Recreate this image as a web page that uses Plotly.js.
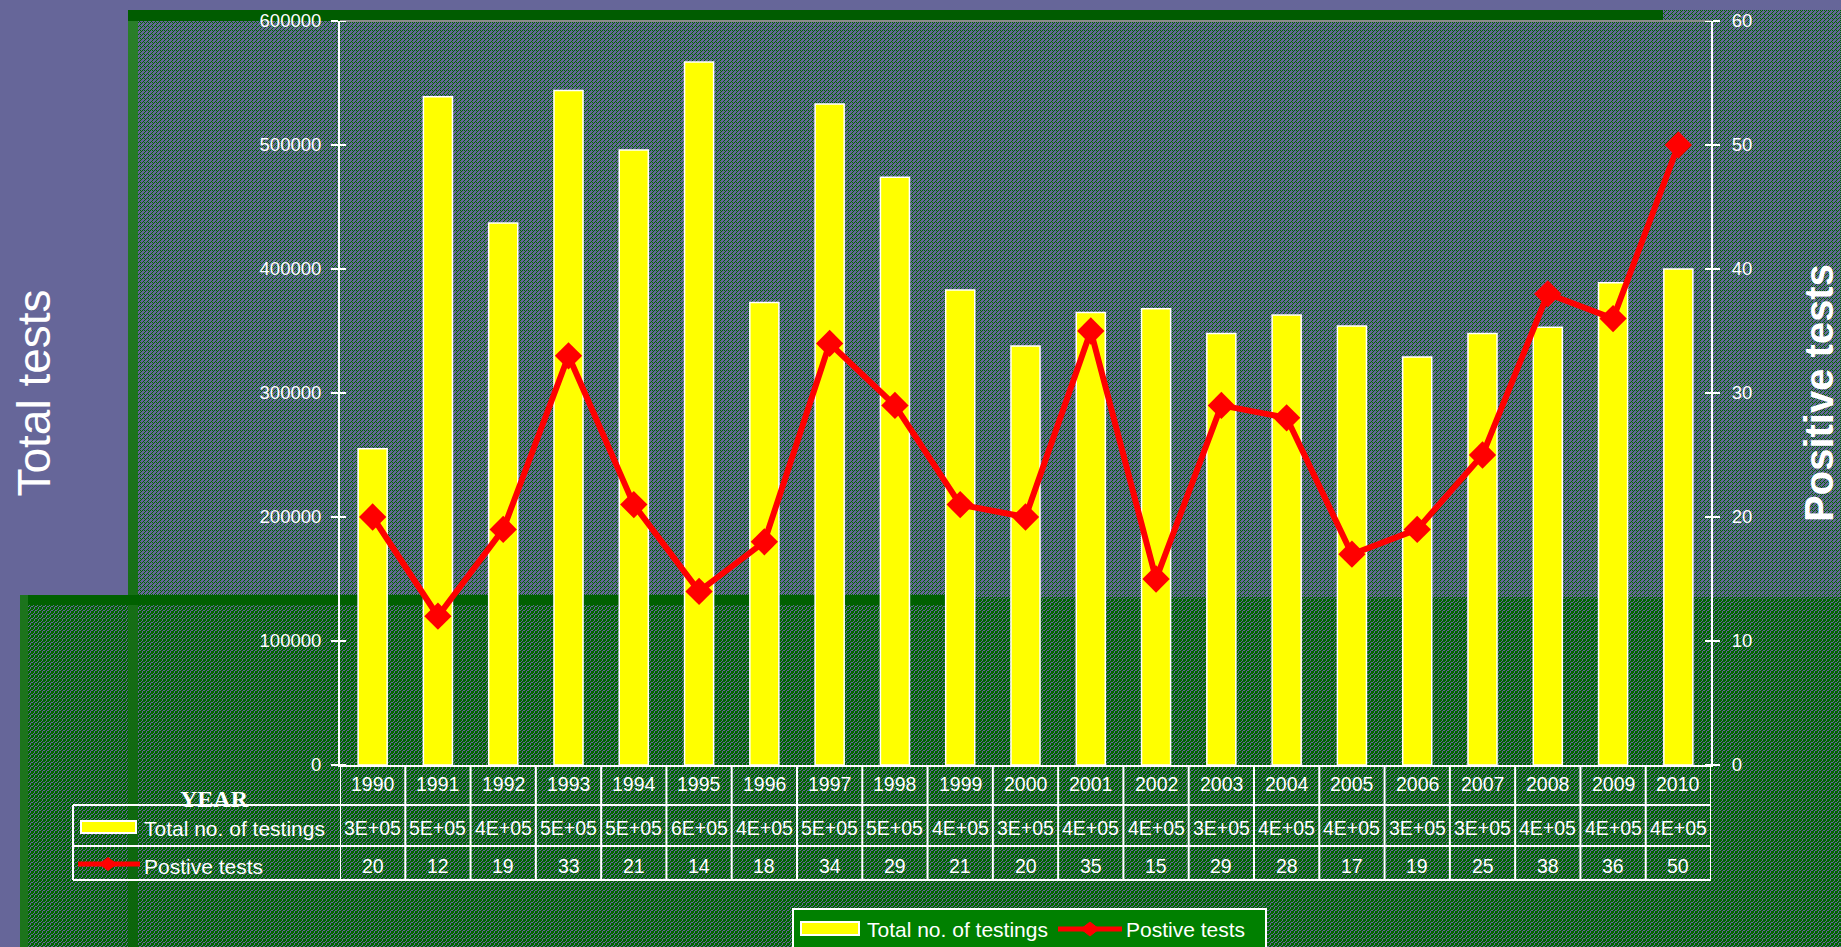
<!DOCTYPE html>
<html>
<head>
<meta charset="utf-8">
<script src="https://cdn.plot.ly/plotly-3.0.1.min.js"></script>
<style>
  html, body { margin:0; padding:0; width:1841px; height:947px; overflow:hidden; background:#666699; }
  #bg { position:absolute; left:0; top:0; width:1841px; height:947px; }
  #bg div { position:absolute; }
  .up { background-image:url("data:image/svg+xml;utf8,<svg xmlns='http://www.w3.org/2000/svg' width='4' height='4' shape-rendering='crispEdges'><rect width='4' height='4' fill='%23666699'/><rect x='0' y='0' width='1' height='1' fill='%23006600'/><rect x='2' y='0' width='1' height='1' fill='%23006600'/><rect x='1' y='1' width='1' height='1' fill='%23006600'/><rect x='0' y='2' width='1' height='1' fill='%23006600'/><rect x='3' y='3' width='1' height='1' fill='%23006600'/></svg>"); background-size:4px 4px; }
  .low { background-image:url("data:image/svg+xml;utf8,<svg xmlns='http://www.w3.org/2000/svg' width='4' height='4' shape-rendering='crispEdges'><rect width='4' height='4' fill='%23006600'/><rect x='1' y='0' width='1' height='1' fill='%23666699'/><rect x='3' y='1' width='1' height='1' fill='%23666699'/><rect x='0' y='1' width='1' height='1' fill='%23666699'/><rect x='2' y='2' width='1' height='1' fill='%23666699'/><rect x='2' y='3' width='1' height='1' fill='%23666699'/></svg>"); background-size:4px 4px; }
  #chart { position:absolute; left:0; top:0; width:1841px; height:947px; }
</style>
</head>
<body>
<div id="bg">
  <div class="up" style="left:128px;top:10px;width:1713px;height:587px;"></div>
  <div class="low" style="left:20px;top:597px;width:1821px;height:350px;"></div>
  <div style="left:128px;top:10px;width:10px;height:937px;background:linear-gradient(#2a7f2a,#0b650b);"></div>
  <div style="left:128px;top:10px;width:1535px;height:11px;background:#005c00;"></div>
  <div style="left:20px;top:595px;width:955px;height:10px;background:#006000;"></div>
  <div style="left:20px;top:595px;width:8px;height:352px;background:#1c741c;"></div>
</div>
<div id="chart"></div>
<script>
// ---- data ----
const years = [1990,1991,1992,1993,1994,1995,1996,1997,1998,1999,2000,2001,2002,2003,2004,2005,2006,2007,2008,2009,2010];
const totalTests = [255000,539000,437000,544000,496000,567000,373000,533000,474000,383000,338000,365000,368000,348000,363000,354000,329000,348000,353000,389000,400000];
const positiveTests = [20,12,19,33,21,14,18,34,29,21,20,35,15,29,28,17,19,25,38,36,50];
const leftTickVals = [0,100000,200000,300000,400000,500000,600000];
const leftTickText = ['0','100000','200000','300000','400000','500000','600000'];
const rightTickVals = [0,10,20,30,40,50,60];
const rightTickText = ['0','10','20','30','40','50','60'];
const seriesNames = ['Total no. of testings','Postive tests'];

// ---- geometry helpers (pixel -> paper) ----
const L = 340, R = 1711, T = 21, B = 765;
const px = x => (x - L) / (R - L);
const py = y => (B - y) / (B - T);

function sci(v) {
  const parts = v.toExponential(0).split('e');
  const e = parseInt(parts[1], 10);
  return parts[0] + 'E' + (e < 0 ? '-' : '+') + String(Math.abs(e)).padStart(2, '0');
}

const white = '#ffffff';
const red = '#ff0000';
const yellow = '#ffff00';
const font = 'Liberation Sans, Arial, sans-serif';

const traces = [
  {
    type:'bar', name: seriesNames[0], x: years, y: totalTests,
    marker:{color:yellow, line:{color:white, width:1.5}},
    yaxis:'y', xaxis:'x'
  },
  {
    type:'scatter', mode:'lines+markers', name: seriesNames[1], x: years, y: positiveTests,
    line:{color:red, width:6},
    marker:{symbol:'diamond', size:21, color:red},
    yaxis:'y2', xaxis:'x'
  }
];

const shapes = [];
const annotations = [];

// top border of plot area
shapes.push({type:'line', xref:'paper', yref:'paper', x0:0, x1:1, y0:1, y1:1, line:{color:'#8a8a8a', width:2}});
// inside part of the ticks (ticks cross the axes)
leftTickVals.forEach(v => shapes.push({type:'line', xref:'paper', yref:'y', x0:px(340), x1:px(346), y0:v, y1:v, line:{color:white, width:2}}));
rightTickVals.forEach(v => shapes.push({type:'line', xref:'paper', yref:'y2', x0:px(1705), x1:px(1711), y0:v, y1:v, line:{color:white, width:2}}));

// data table grid
const rowTop = 765, row1 = 805, row2 = 846, row3 = 880, tableLeft = 73;
for (let i = 0; i <= years.length; i++) {
  const xv = years[0] - 0.5 + i;
  shapes.push({type:'line', xref:'x', yref:'paper', x0:xv, x1:xv, y0:py(rowTop), y1:py(row3), line:{color:white, width:2}});
}
[row1, row2, row3].forEach(yy => shapes.push({type:'line', xref:'paper', yref:'paper', x0:px(tableLeft), x1:px(R), y0:py(yy), y1:py(yy), line:{color:white, width:2}}));
shapes.push({type:'line', xref:'paper', yref:'paper', x0:px(tableLeft), x1:px(tableLeft), y0:py(row1), y1:py(row3), line:{color:white, width:2}});

function diamond(cx, cy, hw, hh) {
  const pts = [[cx-hw,cy],[cx,cy-hh],[cx+hw,cy],[cx,cy+hh]].map(p => px(p[0]) + ',' + py(p[1]));
  return {type:'path', xref:'paper', yref:'paper', path:'M' + pts.join(' L') + ' Z', fillcolor:red, line:{color:red, width:1}};
}

// legend keys inside the table
shapes.push({type:'rect', xref:'paper', yref:'paper', x0:px(81), x1:px(136), y0:py(821), y1:py(833), fillcolor:yellow, line:{color:white, width:2}});
shapes.push({type:'line', xref:'paper', yref:'paper', x0:px(78), x1:px(140), y0:py(864), y1:py(864), line:{color:red, width:5}});
shapes.push(diamond(108, 864, 8.5, 6.5));

// table text
const tf = {family:font, size:19.5, color:white};
years.forEach((yr, i) => {
  annotations.push({xref:'x', yref:'paper', x:yr, y:py(784), text:String(yr), showarrow:false, xanchor:'center', yanchor:'middle', font:tf});
  annotations.push({xref:'x', yref:'paper', x:yr, y:py(828), text:sci(totalTests[i]), showarrow:false, xanchor:'center', yanchor:'middle', font:tf});
  annotations.push({xref:'x', yref:'paper', x:yr, y:py(866), text:String(positiveTests[i]), showarrow:false, xanchor:'center', yanchor:'middle', font:tf});
});
const lf = {family:font, size:21, color:white};
annotations.push({xref:'paper', yref:'paper', x:px(142), y:py(828), text:seriesNames[0], showarrow:false, xanchor:'left', yanchor:'middle', font:lf});
annotations.push({xref:'paper', yref:'paper', x:px(142), y:py(866), text:seriesNames[1], showarrow:false, xanchor:'left', yanchor:'middle', font:lf});
annotations.push({xref:'paper', yref:'paper', x:px(214.5), y:py(799), text:'<b>YEAR</b>', showarrow:false, xanchor:'center', yanchor:'middle', font:{family:'Liberation Serif, Times New Roman, serif', size:24, color:white}});

// bottom legend box
shapes.push({type:'rect', xref:'paper', yref:'paper', x0:px(793), x1:px(1266), y0:py(909), y1:py(962), fillcolor:'#008000', line:{color:white, width:2}});
shapes.push({type:'rect', xref:'paper', yref:'paper', x0:px(801), x1:px(859), y0:py(922), y1:py(935), fillcolor:yellow, line:{color:white, width:2}});
shapes.push({type:'line', xref:'paper', yref:'paper', x0:px(1058), x1:px(1122), y0:py(929), y1:py(929), line:{color:red, width:5}});
shapes.push(diamond(1090, 929, 9, 7));
annotations.push({xref:'paper', yref:'paper', x:px(865), y:py(929), text:seriesNames[0], showarrow:false, xanchor:'left', yanchor:'middle', font:lf});
annotations.push({xref:'paper', yref:'paper', x:px(1124), y:py(929), text:seriesNames[1], showarrow:false, xanchor:'left', yanchor:'middle', font:lf});

const layout = {
  width:1841, height:947,
  margin:{l:L, r:1841-R, t:T, b:947-B, pad:0},
  paper_bgcolor:'rgba(0,0,0,0)', plot_bgcolor:'rgba(0,0,0,0)',
  showlegend:false,
  bargap:0.555,
  xaxis:{
    range:[years[0]-0.5, years[years.length-1]+0.5],
    showticklabels:false, ticks:'', showgrid:false, zeroline:false,
    showline:true, linecolor:white, linewidth:2, automargin:false
  },
  yaxis:{
    title:{text:'Total tests', font:{family:font, size:46, color:white}, standoff:194},
    range:[0,600000], tickvals:leftTickVals, ticktext:leftTickText,
    ticks:'outside', ticklen:7, tickwidth:2, tickcolor:white, ticklabelstandoff:6,
    tickfont:{family:font, size:18.5, color:white},
    showgrid:false, zeroline:false, showline:true, linecolor:white, linewidth:2, automargin:false
  },
  yaxis2:{
    title:{text:'<b>Positive tests</b>', font:{family:font, size:40, color:white}, standoff:54},
    overlaying:'y', side:'right',
    range:[0,60], tickvals:rightTickVals, ticktext:rightTickText,
    ticks:'outside', ticklen:7, tickwidth:2, tickcolor:white, ticklabelstandoff:8,
    tickfont:{family:font, size:18.5, color:white},
    showgrid:false, zeroline:false, showline:true, linecolor:white, linewidth:2, automargin:false
  },
  shapes:shapes,
  annotations:annotations
};

Plotly.newPlot('chart', traces, layout, {displayModeBar:false, staticPlot:true});
</script>
</body>
</html>
